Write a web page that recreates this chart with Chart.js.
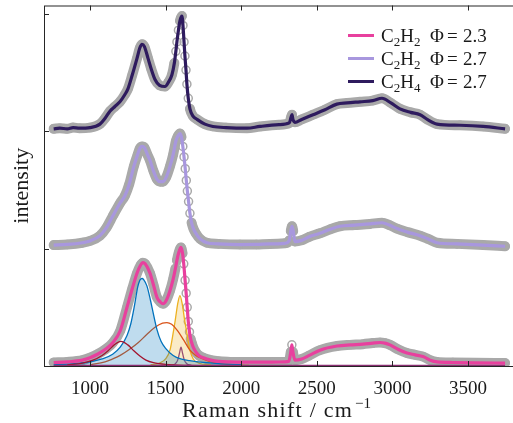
<!DOCTYPE html>
<html>
<head>
<meta charset="utf-8">
<script src="https://cdn.jsdelivr.net/npm/chart.js@4.4.0/dist/chart.umd.min.js"></script>
<style>
  html, body { margin: 0; padding: 0; background: #fff; }
  #wrap { width: 513px; height: 423px; overflow: hidden; }
  canvas { display: block; }
</style>
</head>
<body>
<div id="wrap"><canvas id="raman" width="530" height="423"></canvas></div>
<script>
// spectra, normalised and stacked (offset 0, 1, 2)
const bottomX = [760, 850, 950, 1000, 1050, 1100, 1152, 1200, 1245, 1280, 1311, 1335, 1350, 1365, 1397, 1420, 1443, 1465, 1483, 1505, 1529, 1550, 1565, 1575, 1588, 1602, 1612, 1620, 1629, 1636, 1643, 1650, 1658, 1666, 1675, 1683, 1700, 1720, 1750, 1800, 1850, 1926, 2000, 2100, 2200, 2290, 2315, 2328, 2335, 2342, 2355, 2400, 2450, 2521, 2633, 2720, 2805, 2870, 2918, 2950, 2984, 3040, 3096, 3150, 3202, 3250, 3295, 3400, 3550, 3745];
const bottomY = [0.03, 0.035, 0.05, 0.07, 0.10, 0.14, 0.20, 0.30, 0.50, 0.66, 0.79, 0.86, 0.88, 0.87, 0.79, 0.69, 0.585, 0.545, 0.53, 0.56, 0.64, 0.74, 0.83, 0.90, 0.97, 1.01, 0.96, 0.87, 0.73, 0.62, 0.50, 0.38, 0.29, 0.23, 0.19, 0.16, 0.12, 0.09, 0.07, 0.05, 0.04, 0.035, 0.033, 0.033, 0.033, 0.035, 0.04, 0.12, 0.18, 0.12, 0.05, 0.06, 0.09, 0.135, 0.17, 0.18, 0.186, 0.195, 0.20, 0.195, 0.18, 0.14, 0.11, 0.095, 0.08, 0.05, 0.035, 0.03, 0.027, 0.025];

const midX = [760, 850, 950, 1000, 1066, 1110, 1152, 1200, 1231, 1260, 1290, 1315, 1331, 1345, 1360, 1380, 1397, 1420, 1443, 1465, 1483, 1505, 1529, 1550, 1569, 1582, 1595, 1605, 1614, 1622, 1630, 1637, 1644, 1652, 1661, 1672, 1684, 1700, 1730, 1773, 1850, 1992, 2100, 2190, 2290, 2318, 2328, 2336, 2344, 2355, 2400, 2450, 2521, 2590, 2653, 2750, 2852, 2931, 2980, 3030, 3100, 3183, 3240, 3295, 3427, 3600, 3745];
const midY = [1.03, 1.035, 1.05, 1.065, 1.11, 1.18, 1.28, 1.39, 1.45, 1.55, 1.70, 1.80, 1.856, 1.87, 1.86, 1.80, 1.75, 1.66, 1.59, 1.57, 1.57, 1.61, 1.70, 1.80, 1.92, 1.96, 1.98, 1.95, 1.87, 1.78, 1.68, 1.58, 1.49, 1.40, 1.30, 1.22, 1.17, 1.13, 1.08, 1.05, 1.04, 1.034, 1.035, 1.04, 1.045, 1.07, 1.15, 1.19, 1.15, 1.06, 1.07, 1.10, 1.13, 1.165, 1.19, 1.20, 1.21, 1.22, 1.20, 1.17, 1.14, 1.11, 1.08, 1.05, 1.04, 1.03, 1.02];

const topX = [760, 800, 850, 888, 930, 1000, 1066, 1100, 1132, 1165, 1198, 1230, 1251, 1280, 1311, 1330, 1344, 1360, 1384, 1405, 1430, 1460, 1496, 1520, 1542, 1558, 1568, 1575, 1585, 1595, 1608, 1615, 1622, 1628, 1635, 1641, 1650, 1661, 1680, 1708, 1760, 1813, 1900, 2038, 2124, 2250, 2318, 2330, 2336, 2342, 2355, 2400, 2475, 2550, 2633, 2700, 2786, 2870, 2931, 2990, 3050, 3120, 3183, 3230, 3295, 3447, 3600, 3745];
const topY = [2.02, 2.025, 2.02, 2.03, 2.025, 2.03, 2.06, 2.11, 2.17, 2.21, 2.25, 2.31, 2.36, 2.48, 2.62, 2.71, 2.74, 2.72, 2.62, 2.53, 2.44, 2.39, 2.38, 2.42, 2.48, 2.58, 2.68, 2.76, 2.86, 2.94, 2.98, 2.90, 2.76, 2.64, 2.52, 2.40, 2.28, 2.19, 2.13, 2.10, 2.06, 2.04, 2.03, 2.025, 2.04, 2.055, 2.07, 2.12, 2.14, 2.10, 2.075, 2.10, 2.14, 2.18, 2.23, 2.24, 2.25, 2.26, 2.28, 2.24, 2.19, 2.16, 2.14, 2.10, 2.06, 2.05, 2.04, 2.02];

// fitted components of the bottom spectrum
const p1200X = [850, 950, 1020, 1080, 1120, 1160, 1205, 1250, 1290, 1330, 1370, 1420, 1500, 1650, 1900];
const p1200Y = [0.01, 0.025, 0.05, 0.09, 0.13, 0.18, 0.21, 0.18, 0.13, 0.085, 0.05, 0.028, 0.013, 0.005, 0.002];
const p1345X = [760, 900, 1000, 1080, 1150, 1200, 1245, 1270, 1295, 1317, 1335, 1345, 1355, 1377, 1400, 1420, 1443, 1470, 1500, 1550, 1600, 1660, 1750, 1850, 2000];
const p1345Y = [0.01, 0.02, 0.035, 0.06, 0.10, 0.16, 0.26, 0.36, 0.52, 0.68, 0.74, 0.745, 0.735, 0.68, 0.56, 0.44, 0.31, 0.21, 0.15, 0.09, 0.06, 0.045, 0.03, 0.02, 0.012];
const p1510X = [1000, 1100, 1150, 1200, 1260, 1320, 1377, 1430, 1480, 1509, 1540, 1580, 1620, 1661, 1700, 1727, 1800, 1900, 2050];
const p1510Y = [0.01, 0.035, 0.06, 0.09, 0.14, 0.20, 0.27, 0.33, 0.365, 0.37, 0.355, 0.30, 0.22, 0.135, 0.09, 0.07, 0.035, 0.015, 0.005];
const p1595X = [1400, 1460, 1500, 1530, 1550, 1565, 1580, 1595, 1610, 1625, 1641, 1660, 1683, 1720, 1800];
const p1595Y = [0.01, 0.025, 0.06, 0.14, 0.28, 0.40, 0.53, 0.60, 0.53, 0.40, 0.28, 0.14, 0.06, 0.025, 0.01];
const p1602X = [1540, 1565, 1580, 1592, 1602, 1612, 1624, 1640, 1670];
const p1602Y = [0.005, 0.02, 0.05, 0.11, 0.16, 0.11, 0.05, 0.02, 0.005];
const baseX = [760, 3745];
const baseY = [0.005, 0.005];

const xTicks = [1000, 1500, 2000, 2500, 3000, 3500];
const yTicks = [0, 1, 2, 3];
const legendRows = [
  { sub: ['C', '2', 'H', '2'], phi: '2.3', color: '#e8409e' },
  { sub: ['C', '2', 'H', '2'], phi: '2.7', color: '#a897de' },
  { sub: ['C', '2', 'H', '4'], phi: '2.7', color: '#2e1b5e' }
];

const SERIF = '"Liberation Serif", "DejaVu Serif", serif';
const GRAY = '#a9a9a9';

function pts(xs, ys) {
  return xs.map((x, i) => ({ x: x, y: ys[i] }));
}

// hide the grey band where the curve is very steep, so only the rings show
function steep(c) {
  const dx = Math.abs(c.p1.x - c.p0.x), dy = Math.abs(c.p1.y - c.p0.y);
  return dy > 5 * Math.max(dx, 0.5) ? 'rgba(0,0,0,0)' : undefined;
}

function measured(xs, ys) {
  return {
    data: pts(xs, ys), borderColor: GRAY, borderWidth: 10, borderCapStyle: 'round',
    borderJoinStyle: 'round',
    pointRadius: 4, pointBorderWidth: 1.5, pointBorderColor: GRAY,
    pointBackgroundColor: 'rgba(255,255,255,0)', cubicInterpolationMode: 'monotone',
    segment: { borderColor: steep }, order: 3
  };
}

function fit(xs, ys, color) {
  return {
    data: pts(xs, ys), borderColor: color, borderWidth: 3.2, pointRadius: 0,
    cubicInterpolationMode: 'monotone', order: 0
  };
}

function comp(xs, ys, color, fill) {
  return {
    data: pts(xs, ys), borderColor: color, borderWidth: 1.3, pointRadius: 0,
    cubicInterpolationMode: 'monotone', order: 1,
    fill: fill ? 'origin' : false, backgroundColor: fill || 'rgba(0,0,0,0)'
  };
}

const frame = {
  id: 'frame',
  afterDraw(chart) {
    const ctx = chart.ctx, a = chart.chartArea;
    const x = chart.scales.x, y = chart.scales.y;
    ctx.save();
    ctx.strokeStyle = '#262626';
    ctx.lineWidth = 1;
    ctx.strokeRect(a.left + 0.5, a.top + 0.5, a.right - a.left, a.bottom - a.top);
    ctx.beginPath();
    xTicks.forEach(v => {
      const px = Math.round(x.getPixelForValue(v)) + 0.5;
      ctx.moveTo(px, a.bottom); ctx.lineTo(px, a.bottom - 5);
      ctx.moveTo(px, a.top); ctx.lineTo(px, a.top + 5);
    });
    yTicks.forEach(v => {
      const py = Math.round(y.getPixelForValue(v)) + 0.5;
      ctx.moveTo(a.left, py); ctx.lineTo(a.left + 5, py);
    });
    ctx.stroke();

    ctx.fillStyle = '#1a1a1a';
    ctx.textBaseline = 'alphabetic';
    // x label
    ctx.font = '22px ' + SERIF;
    const main = 'Raman shift / cm';
    const w0 = ctx.measureText(main).width;
    if ('letterSpacing' in ctx) ctx.letterSpacing = ((170 - w0) / (main.length - 1)).toFixed(2) + 'px';
    ctx.textAlign = 'left';
    ctx.fillText(main, 182, 417);
    ctx.letterSpacing = '0px';
    ctx.font = '15px ' + SERIF;
    ctx.fillText('\u22121', 355, 408);
    // y label
    ctx.save();
    ctx.translate(28, (a.top + a.bottom) / 2);
    ctx.rotate(-Math.PI / 2);
    ctx.textAlign = 'center';
    ctx.font = '22px ' + SERIF;
    ctx.fillText('intensity', 0, 0);
    ctx.restore();

    // legend
    legendRows.forEach((row, i) => {
      const ly = 35.5 + i * 23;
      ctx.strokeStyle = row.color;
      ctx.lineWidth = 3;
      ctx.beginPath();
      ctx.moveTo(348, ly); ctx.lineTo(374, ly);
      ctx.stroke();
      const base = ly + 6.5;
      let tx = 381;
      row.sub.forEach((s, k) => {
        if (k % 2 === 0) {
          ctx.font = '19px ' + SERIF;
          ctx.fillText(s, tx, base);
        } else {
          ctx.font = '13px ' + SERIF;
          ctx.fillText(s, tx, base + 3.5);
        }
        tx += ctx.measureText(s).width;
      });
      ctx.font = '19px ' + SERIF;
      ctx.fillText('\u03A6', 430, base);
      ctx.fillText('=', 447, base);
      ctx.fillText(row.phi, 463, base);
    });
    ctx.restore();
  }
};

new Chart(document.getElementById('raman'), {
  type: 'line',
  data: {
    datasets: [
      measured(bottomX, bottomY),
      measured(midX, midY),
      measured(topX, topY),
      comp(baseX, baseY, '#8a2f72'),
      comp(p1200X, p1200Y, '#A2142F'),
      comp(p1345X, p1345Y, '#0072BD', 'rgba(0,114,189,0.25)'),
      comp(p1510X, p1510Y, '#D95319'),
      comp(p1595X, p1595Y, '#EDB120', 'rgba(237,177,32,0.25)'),
      comp(p1602X, p1602Y, '#7E2F8E'),
      fit(bottomX, bottomY, legendRows[0].color),
      fit(midX, midY, legendRows[1].color),
      fit(topX, topY, legendRows[2].color)
    ]
  },
  options: {
    responsive: false,
    animation: false,
    devicePixelRatio: 1,
    layout: { padding: { left: 44, right: 16, top: 4, bottom: 0 } },
    plugins: { legend: { display: false }, tooltip: { enabled: false } },
    scales: {
      x: {
        type: 'linear', min: 696, max: 3804,
        afterBuildTicks: s => { s.ticks = xTicks.map(v => ({ value: v })); },
        afterFit: s => { s.height = 57; },
        grid: { display: false },
        border: { display: false },
        ticks: {
          font: { family: SERIF, size: 19 }, color: '#1a1a1a', padding: 4, maxRotation: 0,
          callback: v => String(v)
        }
      },
      y: {
        type: 'linear', min: 0, max: 3.07, display: false,
        afterBuildTicks: s => { s.ticks = yTicks.map(v => ({ value: v })); }
      }
    }
  },
  plugins: [frame]
});
</script>
</body>
</html>
